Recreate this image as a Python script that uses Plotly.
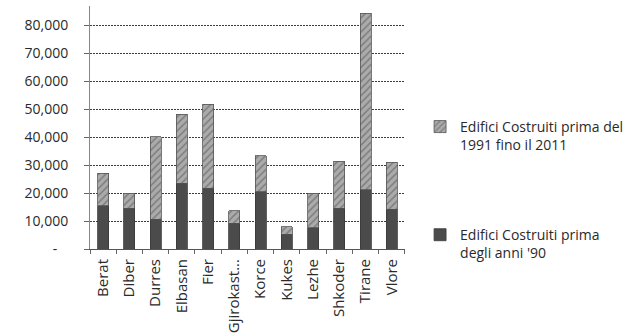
import plotly.graph_objects as go

# Districts (prefetture) on the category axis
districts = ["Berat", "Diber", "Durres", "Elbasan", "Fier", "Gjirokast...",
             "Korce", "Kukes", "Lezhe", "Shkoder", "Tirane", "Vlore"]

# Buildings erected before the 1990s (bottom, solid segment)
before_90 = [15400, 14500, 10600, 23500, 21700, 9200,
             20500, 5200, 7600, 14500, 21100, 14200]

# Buildings erected from 1991 up to 2011 (top, hatched segment)
from_1991_to_2011 = [11600, 5500, 29500, 24700, 30000, 4400,
                     12800, 2800, 12300, 16900, 63100, 16800]

# Value axis ticks
tick_values = [0, 10000, 20000, 30000, 40000, 50000, 60000, 70000, 80000]
tick_labels = ["-\u00a0\u00a0\u00a0", "10,000", "20,000", "30,000", "40,000",
               "50,000", "60,000", "70,000", "80,000"]

FONT = "Open Sans, Calibri, Carlito, sans-serif"
TEXT = "#2a2a2a"

fig = go.Figure()

fig.add_trace(go.Bar(
    x=districts, y=before_90,
    name="Edifici Costruiti prima<br>degli anni '90",
    marker=dict(color="#4b4b4b", line=dict(color="#3a3a3a", width=0.8)),
    legend="legend2",
))

fig.add_trace(go.Bar(
    x=districts, y=from_1991_to_2011,
    name="Edifici Costruiti prima del<br>1991 fino il 2011",
    marker=dict(
        color="#ababab",
        line=dict(color="#555555", width=0.8),
        pattern=dict(shape="/", fgcolor="#4f4f4f", size=5, solidity=0.3),
    ),
    legend="legend",
))

legend_style = dict(xanchor="left", yanchor="top", valign="top",
                    bgcolor="rgba(0,0,0,0)", font=dict(size=14, color=TEXT))

fig.update_layout(
    width=632, height=333,
    margin=dict(l=90, r=0, t=6, b=84, autoexpand=False),
    paper_bgcolor="white", plot_bgcolor="white",
    barmode="stack", bargap=0.58,
    font=dict(family=FONT, size=14, color=TEXT),
    showlegend=True,
    legend=dict(x=0.609, y=0.568, **legend_style),
    legend2=dict(x=0.609, y=0.123, **legend_style),
    xaxis=dict(
        domain=[0, 0.581], automargin=False,
        showline=True, linecolor="#555555", linewidth=1,
        ticks="outside", tickson="boundaries", ticklen=4, tickcolor="#666666",
        tickangle=-90, tickfont=dict(size=15, color=TEXT),
        ticklabelstandoff=3,
        showgrid=False,
    ),
    yaxis=dict(
        range=[0, 86800], automargin=False,
        tickmode="array", tickvals=tick_values, ticktext=tick_labels,
        showline=True, linecolor="#888888", linewidth=1,
        ticks="outside", ticklen=5, tickcolor="#666666",
        ticklabelstandoff=13,
        tickfont=dict(size=14, color=TEXT),
        showgrid=True, gridcolor="#3c3c3c", gridwidth=1, griddash="2px,1px",
        zeroline=False,
    ),
)

fig.write_html("out.html")
